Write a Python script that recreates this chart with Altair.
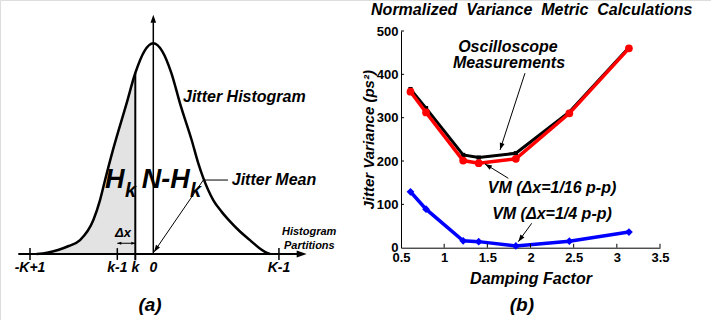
import math
import altair as alt
import pandas as pd

FONT = "Liberation Sans"

# ---------------- panel (b): values ----------------
damping = [0.61, 0.79, 1.22, 1.40, 1.83, 2.45, 3.14]
osc_meas = [366, 322, 214, 208, 218, 313, 462]
vm_16 = [360, 312, 201, 195, 205, 310, 460]
vm_4 = [129, 89, 16, 14, 4, 15, 36]
b_xticks = [0.5, 1, 1.5, 2, 2.5, 3, 3.5]
b_yticks = [0, 100, 200, 300, 400, 500]

# ---------------- panel (a): histogram outline ----------------
curve_x = [-6.48, -5.9, -5.29, -4.7, -4.07, -3.33, -2.96, -2.68, -2.24, -1.5, -1.0, -0.5, 0.0,
           0.5, 1.0, 1.5, 2.13, 2.5, 2.78, 3.33, 3.8, 4.17, 4.8, 5.37, 5.9, 6.2, 6.48]
curve_y = [0.0, 0.006, 0.019, 0.038, 0.066, 0.161, 0.256, 0.351, 0.494, 0.71, 0.859, 0.962, 1.0,
           0.962, 0.86, 0.71, 0.541, 0.43, 0.36, 0.256, 0.2, 0.163, 0.108, 0.066, 0.027, 0.01, 0.0]
a_tick_pos = [-6.85, -2, -1, 0, 6.98]
a_tick_lab = ["-K+1", "k-1", "k", "0", "K-1"]
k_pos = -1
k_height = 0.859

# ---------------- layout (pixel ranges of the scales) ----------------
XA_DOM, XA_RNG = [-8, 8], [9.3, 297.3]
YA_DOM, YA_RNG = [0, 1], [254, 43.3]
XB_DOM, XB_RNG = [0.5, 3.5], [401, 660]
YB_DOM, YB_RNG = [0, 500], [247.7, 31]

ARROW = "M0,0L-0.35,1L0.35,1Z"


def to_px(v, dom, rng):
    return rng[0] + (v - dom[0]) / (dom[1] - dom[0]) * (rng[1] - rng[0])


def head_angle(x0, y0, x1, y1, xd, xr, yd, yr):
    dx = to_px(x1, xd, xr) - to_px(x0, xd, xr)
    dy = to_px(y1, yd, yr) - to_px(y0, yd, yr)
    return math.degrees(math.atan2(dx, -dy)) % 360


# ---------------- panel (a) encodings ----------------
def xa(f):
    return alt.X(f, type="quantitative", scale=alt.Scale(domain=XA_DOM, range=XA_RNG), axis=None)


def ya(f):
    return alt.Y(f, type="quantitative", scale=alt.Scale(domain=YA_DOM, range=YA_RNG), axis=None)


# ---------------- panel (b) encodings ----------------
axis_xb = alt.Axis(orient="bottom", offset=YB_RNG[0] - 320, values=b_xticks, format="~g",
                   ticks=False, grid=False, domainColor="black", domainWidth=1,
                   labelFont=FONT, labelFontWeight="bold", labelFontSize=13, labelColor="black",
                   labelPadding=4, labelFlush=False, labelOverlap=False, labelBound=False,
                   title="Damping  Factor", titleFont=FONT, titleFontStyle="italic",
                   titleFontWeight="bold", titleFontSize=16, titleColor="black", titlePadding=6)
axis_yb = alt.Axis(orient="left", offset=-XB_RNG[0], values=b_yticks, format="d",
                   ticks=False, grid=False, domainColor="black", domainWidth=1,
                   labelFont=FONT, labelFontWeight="bold", labelFontSize=13, labelColor="black",
                   labelPadding=3, labelFlush=False, labelOverlap=False, labelBound=False,
                   title="Jitter Variance (ps²)", titleFont=FONT, titleFontStyle="italic",
                   titleFontWeight="bold", titleFontSize=15, titleColor="black", titlePadding=0)


def xb(f):
    return alt.X(f, type="quantitative", scale=alt.Scale(domain=XB_DOM, range=XB_RNG), axis=axis_xb)


def yb(f):
    return alt.Y(f, type="quantitative", scale=alt.Scale(domain=YB_DOM, range=YB_RNG), axis=axis_yb)


def text_layer(rows, size, align, xf, yf, italic=True):
    df = pd.DataFrame(rows, columns=["x", "y", "t"])
    return alt.Chart(df).mark_text(
        font=FONT, fontSize=size, fontWeight="bold",
        fontStyle="italic" if italic else "normal",
        align=align, baseline="alphabetic", color="black"
    ).encode(x=xf("x"), y=yf("y"), text="t:N")


# ================= panel (a) =================
curve_df = pd.DataFrame({"x": curve_x, "y": curve_y})
shade_df = curve_df[curve_df["x"] <= k_pos]

a_shade = alt.Chart(shade_df).mark_area(color="#e3e3e3", interpolate="monotone").encode(
    x=xa("x"), y=ya("y"))
a_curve = alt.Chart(curve_df).mark_line(color="black", strokeWidth=2.5, interpolate="monotone").encode(
    x=xa("x"), y=ya("y"))


def seg_layer(rows, width):
    df = pd.DataFrame(rows, columns=["x", "y", "x2", "y2"])
    return alt.Chart(df).mark_rule(color="black", strokeWidth=width).encode(
        x=xa("x"), y=ya("y"), x2="x2:Q", y2="y2:Q")


a_thick = seg_layer([(-7.5, 0, 8.35, 0), (k_pos, -0.03, k_pos, k_height)], 2)
a_mid = seg_layer([(0, 0, 0, 1.1)] + [(p, -0.028, p, 0.028) for p in (-6.85, -2, 6.98)], 1.5)
a_thin = seg_layer([(2.77, 0.351, 4.15, 0.351), (2.78, 0.351, 0.04, 0.01),
                    (-2, 0.051, -1, 0.051)], 1)

a_heads_rows = []
for (x0, y0, x1, y1, s) in [(0, 0, 8.52, 0, 400), (0, 0, 0, 1.136, 256),
                            (2.78, 0.351, 0.04, 0.01, 196),
                            (-1, 0.051, -2, 0.051, 64), (-2, 0.051, -1, 0.051, 64)]:
    a_heads_rows.append((x1, y1, head_angle(x0, y0, x1, y1, XA_DOM, XA_RNG, YA_DOM, YA_RNG), s))
a_heads_df = pd.DataFrame(a_heads_rows, columns=["x", "y", "ang", "size"])
a_heads = alt.Chart(a_heads_df).mark_point(shape=ARROW, filled=True, color="black", opacity=1,
                                           strokeWidth=0).encode(
    x=xa("x"), y=ya("y"), angle=alt.Angle("ang:Q", scale=None), size=alt.Size("size:Q", scale=None))

a_texts = [
    text_layer([(1.65, 0.723, "Jitter Histogram"), (4.36, 0.327, "Jitter Mean")], 16, "left", xa, ya),
    text_layer([(-2.68, 0.312, "H"), (-0.64, 0.312, "N-H")], 27, "left", xa, ya),
    text_layer([(-1.57, 0.27, "k"), (2.04, 0.27, "k")], 20, "left", xa, ya),
    text_layer([(-1.68, 0.08, "Δx")], 13, "center", xa, ya),
    text_layer([(p, -0.085, t) for p, t in zip(a_tick_pos, a_tick_lab)], 14, "center", xa, ya),
    text_layer([(-0.18, -0.27, "(a)")], 19, "center", xa, ya),
    text_layer([(7.15, 0.09, "Histogram"), (7.26, 0.024, "Partitions")], 11, "left", xa, ya),
]

panel_a = alt.layer(a_shade, a_curve, a_thick, a_mid, a_thin, a_heads, *a_texts)

# ================= panel (b) =================
osc_df = pd.DataFrame({"d": damping, "v": osc_meas})
v16_df = pd.DataFrame({"d": damping, "v": vm_16})
v4_df = pd.DataFrame({"d": damping, "v": vm_4})

b_osc_line = alt.Chart(osc_df).mark_line(color="black", strokeWidth=3).encode(x=xb("d"), y=yb("v"))
b_osc_pts = alt.Chart(osc_df).mark_point(shape="square", filled=True, color="black", size=18,
                                         opacity=1).encode(x=xb("d"), y=yb("v"))
b_16_line = alt.Chart(v16_df).mark_line(color="#ff0000", strokeWidth=3.5).encode(x=xb("d"), y=yb("v"))
b_16_pts = alt.Chart(v16_df).mark_point(shape="circle", filled=True, color="#ff0000", size=60,
                                        opacity=1).encode(x=xb("d"), y=yb("v"))
b_4_line = alt.Chart(v4_df).mark_line(color="#0000ff", strokeWidth=3.5).encode(x=xb("d"), y=yb("v"))
b_4_pts = alt.Chart(v4_df).mark_point(shape="diamond", filled=True, color="#0000ff", size=60,
                                      opacity=1).encode(x=xb("d"), y=yb("v"))

tick_rows = [(v, 0, v, 9) for v in b_xticks[1:]] + [(0.5, v, 0.535, v) for v in b_yticks[1:]]
tick_df = pd.DataFrame(tick_rows, columns=["x", "y", "x2", "y2"])
b_ticks = alt.Chart(tick_df).mark_rule(color="black", strokeWidth=1).encode(
    x=xb("x"), y=yb("y"), x2="x2:Q", y2="y2:Q")

arrow_rows = [(1.936, 402.7, 1.647, 225.6), (1.743, 160.2, 1.473, 193.3), (2.014, 56.3, 1.859, 13.9)]
b_arrow_df = pd.DataFrame(arrow_rows, columns=["x", "y", "x2", "y2"])
b_arrows = alt.Chart(b_arrow_df).mark_rule(color="black", strokeWidth=1).encode(
    x=xb("x"), y=yb("y"), x2="x2:Q", y2="y2:Q")
b_heads_df = pd.DataFrame(
    [(x1, y1, head_angle(x0, y0, x1, y1, XB_DOM, XB_RNG, YB_DOM, YB_RNG), 196)
     for (x0, y0, x1, y1) in arrow_rows], columns=["x", "y", "ang", "size"])
b_heads = alt.Chart(b_heads_df).mark_point(shape=ARROW, filled=True, color="black", opacity=1,
                                           strokeWidth=0).encode(
    x=xb("x"), y=yb("y"), angle=alt.Angle("ang:Q", scale=None), size=alt.Size("size:Q", scale=None))

NB = " \u00a0"
b_texts = [
    text_layer([(1.739, 452.6, "Oscilloscope"), (1.751, 415, "Measurements"),
                (2.249, 126.3, "VM (Δx=1/16 p-p)"), (2.249, 66.3, "VM (Δx=1/4 p-p)")],
               16, "center", xb, yb),
    text_layer([(2.014, 537.3, NB.join(["Normalized", "Variance", "Metric", "Calculations"]))],
               16, "center", xb, yb),
    text_layer([(1.90, -146, "(b)")], 19, "center", xb, yb),
]

panel_b = alt.layer(b_osc_line, b_osc_pts, b_16_line, b_16_pts, b_4_line, b_4_pts,
                    b_ticks, b_arrows, b_heads, *b_texts)

chart = alt.layer(panel_a, panel_b).resolve_scale(
    x="independent", y="independent"
).properties(
    width=711, height=320, padding=0,
    autosize=alt.AutoSizeParams(type="none"),
).configure_view(stroke=None).configure(background="white")

chart.save("out.html", embed_options={"renderer": "svg", "actions": False})
